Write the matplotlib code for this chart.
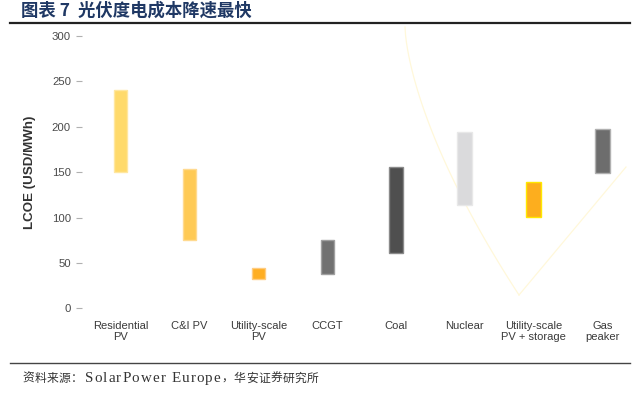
import matplotlib
matplotlib.use("Agg")
import matplotlib.pyplot as plt
from matplotlib.lines import Line2D
import numpy as np

categories = ["Residential\nPV", "C&I PV", "Utility-scale\nPV", "CCGT", "Coal",
              "Nuclear", "Utility-scale\nPV + storage", "Gas\npeaker"]
low = [150, 75, 32, 38, 61, 114, 101, 149]
high = [241, 153, 44, 75, 156, 194, 139, 197]
colors = ["#FFDA6B", "#FFCA55", "#FFAE22", "#717171", "#4F4F4F", "#DADADC", "#FDAE1E", "#6D6D6D"]
edges = ["#FFE7A0", "#FFDA90", "#FFCC80", "#A0A0A0", "#8A8A8A", "#E8E8E8", "#FFE800", "#B0B0B0"]
widths = [0.19, 0.19, 0.19, 0.19, 0.19, 0.22, 0.22, 0.22]
yticks = [0, 50, 100, 150, 200, 250, 300]

title = "图表 7  光伏度电成本降速最快"
source_parts = ["资料来源：", "SolarPower Europe", "，华安证券研究所"]
ylabel = "LCOE (USD/MWh)"

plt.rcParams['font.family'] = ['Liberation Sans', 'Noto Sans CJK SC', 'DejaVu Sans']

W, H = 640, 394
fig = plt.figure(figsize=(6.4, 3.94), dpi=100)
ax = fig.add_axes([82/W, 1 - 308.3/H, (637-82)/W, 272.3/H])
ax.set_facecolor('none')

x = np.arange(len(categories))
ax.bar(x, np.array(high) - np.array(low), bottom=low, width=widths,
       color=colors, edgecolor=edges, linewidth=1.0, zorder=3)

ax.set_ylim(0, 300)
ax.set_xlim(-0.56, 7.5)
ax.set_yticks(yticks)
ax.set_xticks(x)
ax.set_xticklabels(categories, fontsize=8, color="#3a3a3a", linespacing=1.15)
ax.set_yticklabels([str(v) for v in yticks], fontsize=8.2, color="#4a4a4a")
ax.tick_params(axis='y', length=4, width=0.8, color="#b0b0b0", pad=4)
ax.tick_params(axis='x', length=0, pad=9)
for s in ax.spines.values():
    s.set_visible(False)
ax.set_ylabel(ylabel, fontsize=9.6, fontweight='bold', color="#333333", labelpad=11)

# decorative faint curve (background artifact)
t = np.linspace(0, 1, 60)
cx = 405 + (519 - 405) * t ** 1.3
cy = 27 + (295 - 27) * (t ** 0.85)
fig.add_artist(Line2D(cx / W, 1 - cy / H, color="#FFF8DA", lw=0.9, zorder=0))
fig.add_artist(Line2D([519 / W, 626 / W], [1 - 295 / H, 1 - 167 / H],
                      color="#FFF8DA", lw=0.9, zorder=0))

# title and rules
fig.text(21/W, 1 - 11/H, title, fontsize=12.5, fontweight='bold', color="#1F3864",
         va='center', ha='left', family=['Noto Sans CJK SC', 'DejaVu Sans'])
fig.add_artist(Line2D([10/W, 630/W], [1 - 22.5/H, 1 - 22.5/H], color="#222222", lw=1.6))
fig.add_artist(Line2D([10/W, 630/W], [1 - 363/H, 1 - 363/H], color="#444444", lw=1.0))

renderer = fig.canvas.get_renderer()


def tracked_text(s, x0, y0, size, family, track):
    """Draw string char by char with extra spacing (pixels); return end x in pixels."""
    xp = x0
    for ch in s:
        tt = fig.text(xp / W, 1 - y0 / H, ch, fontsize=size, color="#333333",
                      va='baseline', ha='left', family=family)
        bb = tt.get_window_extent(renderer=renderer)
        wch = bb.width if ch != ' ' else size * 100 / 72 * 0.25
        xp += wch + track
    return xp


base = 382
xe = tracked_text(source_parts[0], 22, base, 8.5, ['Noto Sans CJK SC'], 0.6)
xe = tracked_text(source_parts[1], xe + 1, base, 10.8, ['Liberation Serif'], 1.1)
tracked_text(source_parts[2], xe, base, 8.5, ['Noto Sans CJK SC'], 0.4)

fig.savefig("out.png", dpi=100)
